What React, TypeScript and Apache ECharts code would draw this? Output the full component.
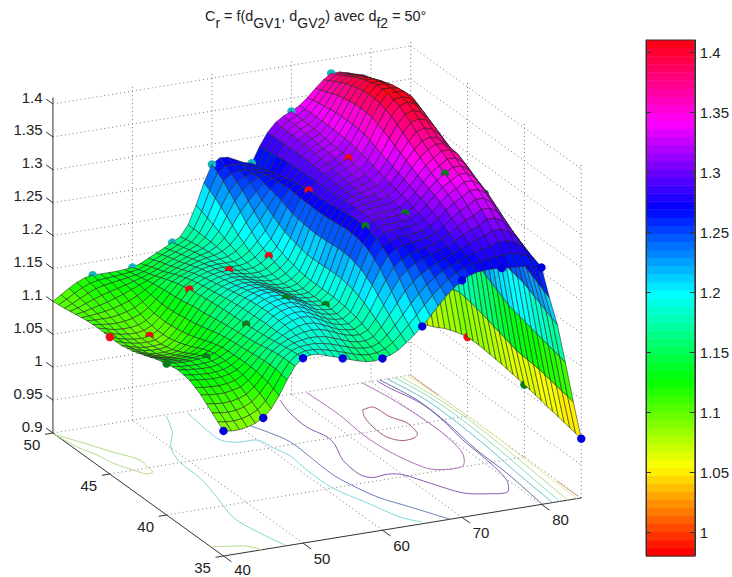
import React, { useEffect, useRef } from "react";
import * as echarts from "echarts";

const xTicks = [40, 50, 60, 70, 80];
const yTicks = [35, 40, 45, 50];
const zTicks = [0.9, 0.95, 1, 1.05, 1.1, 1.15, 1.2, 1.25, 1.3, 1.35, 1.4];
const barTicks = [1, 1.05, 1.1, 1.15, 1.2, 1.25, 1.3, 1.35, 1.4];
const xRange = [40, 85];
const yRange = [35, 50];
const zRange = [0.9, 1.41];
const barRange = [0.98, 1.41];
const barLevels = 64;

// z(dGV1 = 40..85 step 1) for each dGV2 = 35..50 step 1
const z35 = [1.090,1.088,1.088,1.090,1.094,1.100,1.112,1.130,1.152,1.171,1.181,1.184,1.183,1.179,1.175,1.171,1.167,1.163,1.160,1.159,1.161,1.164,1.170,1.179,1.189,1.200,1.213,1.227,1.240,1.251,1.260,1.266,1.269,1.270,1.270,1.269,1.268,1.267,1.266,1.264,1.260,1.212,1.169,1.110,1.048,0.990];
const z36 = [1.105,1.103,1.102,1.103,1.106,1.112,1.123,1.138,1.156,1.171,1.180,1.184,1.185,1.185,1.183,1.180,1.176,1.172,1.168,1.166,1.166,1.170,1.180,1.193,1.207,1.222,1.235,1.247,1.256,1.264,1.270,1.275,1.280,1.284,1.287,1.290,1.294,1.294,1.290,1.282,1.268,1.222,1.178,1.115,1.052,0.994];
const z37 = [1.120,1.118,1.117,1.117,1.119,1.122,1.130,1.142,1.156,1.169,1.177,1.183,1.187,1.190,1.191,1.190,1.186,1.181,1.176,1.173,1.172,1.177,1.192,1.211,1.230,1.248,1.259,1.267,1.272,1.276,1.280,1.285,1.291,1.298,1.304,1.308,1.316,1.316,1.310,1.296,1.278,1.232,1.187,1.120,1.056,0.998];
const z38 = [1.130,1.128,1.127,1.126,1.127,1.129,1.134,1.143,1.154,1.165,1.174,1.182,1.190,1.195,1.198,1.197,1.192,1.186,1.180,1.177,1.176,1.184,1.204,1.229,1.252,1.270,1.278,1.282,1.284,1.286,1.288,1.293,1.301,1.311,1.320,1.326,1.334,1.334,1.326,1.310,1.288,1.243,1.196,1.125,1.060,1.002];
const z39 = [1.133,1.131,1.130,1.129,1.129,1.131,1.135,1.142,1.152,1.162,1.172,1.182,1.191,1.197,1.200,1.200,1.195,1.189,1.183,1.180,1.179,1.188,1.212,1.241,1.267,1.284,1.291,1.293,1.293,1.294,1.295,1.301,1.311,1.323,1.333,1.340,1.348,1.348,1.340,1.324,1.299,1.254,1.200,1.130,1.062,1.006];
const z40 = [1.130,1.129,1.128,1.128,1.129,1.130,1.134,1.141,1.150,1.160,1.170,1.181,1.191,1.197,1.200,1.200,1.196,1.190,1.184,1.181,1.180,1.190,1.216,1.247,1.274,1.290,1.296,1.297,1.297,1.298,1.300,1.307,1.318,1.331,1.342,1.350,1.358,1.358,1.350,1.334,1.310,1.265,1.205,1.135,1.064,1.010];
const z41 = [1.125,1.122,1.120,1.119,1.120,1.122,1.128,1.136,1.147,1.158,1.169,1.180,1.189,1.195,1.198,1.197,1.193,1.187,1.182,1.180,1.180,1.190,1.216,1.248,1.275,1.290,1.297,1.300,1.301,1.302,1.305,1.313,1.325,1.339,1.352,1.361,1.370,1.370,1.362,1.345,1.321,1.278,1.218,1.145,1.070,1.013];
const z42 = [1.118,1.114,1.111,1.109,1.110,1.112,1.119,1.129,1.142,1.155,1.168,1.178,1.186,1.191,1.193,1.192,1.188,1.183,1.179,1.178,1.180,1.190,1.215,1.246,1.273,1.288,1.296,1.300,1.303,1.305,1.309,1.318,1.332,1.349,1.364,1.375,1.379,1.375,1.365,1.349,1.332,1.290,1.230,1.155,1.076,1.016];
const z43 = [1.112,1.108,1.104,1.102,1.102,1.104,1.112,1.123,1.137,1.152,1.166,1.175,1.182,1.186,1.188,1.187,1.184,1.180,1.177,1.177,1.182,1.192,1.215,1.245,1.271,1.285,1.294,1.300,1.304,1.308,1.313,1.323,1.339,1.359,1.377,1.390,1.394,1.390,1.378,1.360,1.330,1.302,1.242,1.165,1.082,1.018];
const z44 = [1.108,1.104,1.101,1.099,1.099,1.100,1.107,1.119,1.134,1.150,1.164,1.172,1.178,1.182,1.184,1.183,1.180,1.178,1.177,1.179,1.186,1.197,1.219,1.247,1.271,1.283,1.293,1.300,1.306,1.311,1.317,1.329,1.347,1.369,1.389,1.403,1.407,1.402,1.389,1.370,1.338,1.312,1.252,1.175,1.087,1.020];
const z45 = [1.108,1.104,1.101,1.099,1.098,1.100,1.106,1.117,1.131,1.146,1.161,1.169,1.174,1.178,1.180,1.180,1.178,1.177,1.178,1.183,1.192,1.204,1.225,1.250,1.272,1.282,1.294,1.303,1.309,1.315,1.321,1.334,1.354,1.377,1.397,1.410,1.410,1.409,1.399,1.380,1.345,1.320,1.260,1.180,1.090,1.020];
const z46 = [1.109,1.106,1.103,1.102,1.102,1.104,1.109,1.118,1.130,1.144,1.157,1.164,1.169,1.173,1.176,1.177,1.177,1.177,1.181,1.189,1.202,1.216,1.236,1.258,1.274,1.280,1.293,1.304,1.312,1.318,1.324,1.337,1.356,1.379,1.398,1.410,1.410,1.406,1.396,1.383,1.350,1.323,1.260,1.177,1.085,1.015];
const z47 = [1.108,1.107,1.107,1.107,1.109,1.112,1.116,1.123,1.132,1.142,1.151,1.157,1.162,1.167,1.171,1.174,1.176,1.180,1.188,1.201,1.218,1.233,1.248,1.263,1.272,1.276,1.292,1.305,1.314,1.320,1.326,1.338,1.356,1.377,1.395,1.405,1.405,1.400,1.392,1.382,1.352,1.322,1.255,1.170,1.080,1.008];
const z48 = [1.105,1.107,1.110,1.113,1.116,1.120,1.124,1.129,1.134,1.139,1.144,1.149,1.155,1.160,1.165,1.170,1.174,1.182,1.196,1.217,1.238,1.252,1.262,1.268,1.270,1.270,1.290,1.305,1.316,1.323,1.328,1.338,1.354,1.373,1.389,1.397,1.397,1.392,1.385,1.378,1.352,1.318,1.250,1.162,1.072,0.998];
const z49 = [1.102,1.107,1.113,1.119,1.124,1.127,1.129,1.131,1.133,1.135,1.138,1.143,1.149,1.155,1.160,1.165,1.171,1.183,1.204,1.232,1.256,1.265,1.268,1.267,1.265,1.265,1.287,1.304,1.316,1.324,1.329,1.338,1.351,1.366,1.380,1.387,1.387,1.383,1.378,1.373,1.350,1.314,1.245,1.155,1.065,0.990];
const z50 = [1.100,1.108,1.116,1.123,1.128,1.130,1.130,1.130,1.130,1.131,1.132,1.136,1.142,1.148,1.154,1.160,1.167,1.183,1.211,1.243,1.269,1.277,1.276,1.270,1.264,1.261,1.285,1.304,1.317,1.325,1.330,1.337,1.347,1.359,1.370,1.378,1.378,1.375,1.371,1.368,1.345,1.310,1.240,1.150,1.060,0.980];
const surfaceRows = [z35, z36, z37, z38, z39, z40, z41, z42, z43, z44, z45, z46, z47, z48, z49, z50];

// measured points: every 5 units of dGV1, one colour per dGV2 row
const markerXs = [40, 45, 50, 55, 60, 65, 70, 75, 80, 85];
const markerRows = [
  { y: 35, color: "#0000dd" },
  { y: 40, color: "#0a7a1e" },
  { y: 45, color: "#f00a14" },
  { y: 50, color: "#18b4bc" },
];

// floor contours, in (dGV1, dGV2)
const contourA = [[40,49.8],[40.7,49.3],[42.1,48.2],[43.5,47.1],[45.1,45.9],[44.9,45.1],[44.7,44.5],[43.8,44.4],[43,45],[41.9,46],[41.4,47.1],[40.5,48.2],[40,49.8]];
const contourB = [[40.2,36.1],[41.8,35.9],[43.8,35.6],[44.8,35]];
const contourC = [[54.1,49.9],[52.3,48.1],[50.1,46.7],[48.9,45.1],[48.7,43.1],[47.7,41],[46.5,38.7],[46.9,36.9],[47.9,35.1]];
const contourD = [[56.7,49.8],[56.2,47.8],[56.2,46.6],[57.6,46.1],[60,46],[60.5,45],[61.1,43.9],[60.8,42.2],[60.9,40],[62.3,38],[63.7,36],[65.2,35.2]];
const contourE = [[61,47.8],[62.3,46.5],[63.1,45.3],[63,43.5],[62.8,41.5],[63.1,40.3],[64.2,38.4],[66.1,36.9],[68.5,35]];
const contourF = [[68,49.6],[67.2,48.2],[66.9,46.5],[67.6,45.2],[67.3,44.3],[65.9,42.6],[65.6,40.9],[66.5,40.4],[68.5,40.5],[70,40.2],[71.6,38.9],[73.6,37.4],[76.2,36.9],[78.3,36.8],[79.9,38],[80.7,40.3],[81.1,42.7],[81.9,45.2],[82,47.1],[81,49],[80.7,49.9]];
const contourG = [[71.8,49.9],[72,47.2],[71.6,44.8],[71.9,42.7],[73.2,40.6],[74.5,40.1],[77.4,40.1],[79.2,41.4],[80,43.7],[80,45.7],[79.6,48],[78.9,50]];
const contourH = [[75.1,47.3],[76.6,47.4],[76.9,46.2],[77.8,45.3],[77.4,44.1],[76.5,43.7],[74.8,43.6],[73.7,44.2],[73.7,45.4],[74.3,46.6],[75.1,47.3]];
const contourJ = [[81.1,50],[82.1,47.4],[81.9,44.6],[81.1,41.5],[80.9,38.7],[80.1,35]];
const contourK = [[82,50],[83,47.4],[83,44.6],[82.6,41.5],[82,38.7],[81.4,35]];
const contourL = [[83,50],[83.8,47.4],[83.9,44.6],[83.5,41.5],[83,38.7],[82.3,35]];
const contourM = [[83.7,50],[84.4,47.4],[84.6,44.6],[84.3,41.5],[83.9,38.7],[83.3,35]];
const contourN = [[84.5,50],[84.9,47.6],[85,43],[84.9,41.5],[84.7,38.7],[84.5,35]];
const contourO = [[84.9,37.1],[84.9,36.3],[84.9,35.2]];
const contourP = [[84.95,50],[84.95,47.5]];
const contours = [
  { line: contourA, color: "#b4dc8e" }, { line: contourB, color: "#b4dc8e" },
  { line: contourC, color: "#84d8c6" }, { line: contourD, color: "#80d8dc" },
  { line: contourE, color: "#6a80b4" }, { line: contourF, color: "#8c5ab0" },
  { line: contourG, color: "#b06eb8" }, { line: contourH, color: "#a85a74" },
  { line: contourJ, color: "#5c70a8" }, { line: contourK, color: "#62c2d2" },
  { line: contourL, color: "#82dcba" }, { line: contourM, color: "#b2dc92" },
  { line: contourN, color: "#e6e69c" }, { line: contourO, color: "#d09a72" },
  { line: contourP, color: "#c8987a" },
];

const FONT = "Liberation Sans";
const TEXT = "#222";

// orthographic view of the 3-D box, in scene pixels
const view = { ox: 223.5, oy: 556, xx: 7.95, xy: -1.29, yx: -11.37, yy: -8.2, zy: -658 };
function project(x: number, y: number, z: number) {
  const a = x - xRange[0], b = y - yRange[0], c = z - zRange[0];
  return [view.ox + view.xx * a + view.yx * b, view.oy + view.xy * a + view.yy * b + view.zy * c];
}

function hsv(h: number) {
  const k = (n: number) => { const t = (n + h * 6) % 6; return Math.round(255 * (1 - Math.max(0, Math.min(t, 4 - t, 1)))); };
  return `rgb(${k(5)},${k(3)},${k(1)})`;
}
function levelColor(level: number) {
  return hsv(level / barLevels);
}
function zColor(z: number) {
  const l = Math.floor(((z - barRange[0]) / (barRange[1] - barRange[0])) * barLevels);
  return levelColor(Math.max(0, Math.min(barLevels - 1, l)));
}

type Seg = { a: number[]; b: number[]; dotted: boolean };

function buildSegments(): Seg[] {
  const segs: Seg[] = [];
  const [x0, x1] = xRange, [y0, y1] = yRange, [z0, z1] = zRange;
  const dot = (a: number[], b: number[]) => segs.push({ a, b, dotted: true });
  const solid = (a: number[], b: number[]) => segs.push({ a, b, dotted: false });
  zTicks.forEach((z) => {
    if (z !== z0) { dot([x0, y1, z], [x1, y1, z]); dot([x1, y1, z], [x1, y0, z]); }
    solid([x0, y1, z], [x0, y1 + 0.6, z]);
  });
  xTicks.forEach((x) => {
    if (x !== x0) {
      dot([x, y0, z0], [x, y1, z0]);
      dot([x, y1, z0], [x, y1, z1]);
    }
    solid([x, y0, z0], [x, y0 - 0.7, z0]);
  });
  yTicks.forEach((y) => {
    if (y !== y0) dot([x0, y, z0], [x1, y, z0]);
    dot([x1, y, z0], [x1, y, z1]);
    solid([x0, y, z0], [x0 - 1, y, z0]);
  });
  dot([x1, y0, z0], [x1, y1, z0]);
  solid([x0, y1, z0], [x0, y1, z1]);
  solid([x0, y0, z0], [x0, y1, z0]);
  solid([x0, y0, z0], [x1, y0, z0]);
  return segs;
}

type SurfItem =
  | { kind: "cell"; i: number; j: number }
  | { kind: "marker"; i: number; j: number; color: string };

function markerColorAt(i: number, j: number) {
  const x = xRange[0] + i, y = yRange[0] + j;
  const row = markerRows.find((r) => r.y === y);
  if (!row || !markerXs.includes(x)) return null;
  if (x === xRange[0] && y === yRange[1]) return null;
  return row.color;
}

// back-to-front order for a view from low dGV1 and low dGV2
function buildSurfaceItems(): SurfItem[] {
  const items: SurfItem[] = [];
  const ni = surfaceRows[0].length, nj = surfaceRows.length;
  for (let i = ni - 1; i >= -1; i--) {
    for (let j = nj - 1; j >= 0; j--) {
      if (i >= 0 && i < ni - 1 && j < nj - 1) items.push({ kind: "cell", i, j });
      if (i < ni - 1) {
        const color = markerColorAt(i + 1, j);
        if (color) items.push({ kind: "marker", i: i + 1, j, color });
      }
    }
  }
  return items;
}

function vertex(i: number, j: number) {
  return project(xRange[0] + i, yRange[0] + j, surfaceRows[j][i]);
}
function middle(a: number[], b: number[]) {
  return [(a[0] + b[0]) / 2, (a[1] + b[1]) / 2];
}

function buildOption() {
  const segs = buildSegments();
  const items = buildSurfaceItems();
  const labels = [
    ...zTicks.map((z) => ({ text: String(z), at: project(xRange[0], yRange[1] + 0.6, z), dx: -3.5, dy: -2, align: "right" })),
    ...yTicks.map((y) => ({ text: String(y), at: project(xRange[0], y, zRange[0]), dx: -21, dy: 11, align: "center" })),
    ...xTicks.map((x) => ({ text: String(x), at: project(x, yRange[0], zRange[0]), dx: 19, dy: 15, align: "center" })),
  ];
  const barBands = Array.from({ length: barLevels }, (_, l) => [l]);
  const scene = { coordinateSystem: "cartesian2d", xAxisIndex: 0, yAxisIndex: 0, silent: true, clip: false, progressive: 0, animation: false };
  const title = "{a|C}{s|r}{a| = f(d}{s|GV1}{a|, d}{s|GV2}{a|) avec d}{s|f2}{a| = 50°}";
  const faceStyle = (z: number) => ({ fill: zColor(z), stroke: "#222", lineWidth: 0.55 });
  return {
    animation: false,
    backgroundColor: "#ffffff",
    title: {
      text: title,
      left: 205,
      top: 0,
      padding: [9, 0, 0, 0],
      textStyle: {
        fontWeight: "normal",
        rich: {
          a: { fontFamily: FONT, fontSize: 14.4, fontWeight: "normal", color: TEXT, verticalAlign: "top", height: 14, lineHeight: 14 },
          s: { fontFamily: FONT, fontSize: 14, fontWeight: "normal", color: TEXT, verticalAlign: "bottom", height: 12, lineHeight: 20 },
        },
      },
    },
    grid: [
      { left: 0, right: 0, top: 0, bottom: 0, show: false },
      { left: 646, top: 40, width: 50, height: 516, show: false },
    ],
    xAxis: [
      { type: "value", gridIndex: 0, min: 0, max: 732, show: false },
      { type: "value", gridIndex: 1, min: 0, max: 1, show: false },
    ],
    yAxis: [
      { type: "value", gridIndex: 0, min: 0, max: 577, inverse: true, show: false },
      {
        type: "value", gridIndex: 1, min: barRange[0], max: barRange[1], position: "right", splitLine: { show: false }, z: 5,
        axisLine: { show: true, onZero: false, lineStyle: { color: "#333" } },
        axisTick: { show: true, inside: true, length: 5, lineStyle: { color: "#333" }, customValues: barTicks },
        axisLabel: { show: true, margin: 5, color: TEXT, fontFamily: FONT, fontSize: 15, customValues: barTicks, formatter: (v: number) => String(Math.round(v * 100) / 100) },
      },
      {
        type: "value", gridIndex: 1, min: barRange[0], max: barRange[1], position: "left", splitLine: { show: false }, z: 5,
        axisLine: { show: true, onZero: false, lineStyle: { color: "#333" } },
        axisTick: { show: true, inside: true, length: 5, lineStyle: { color: "#333" }, customValues: barTicks },
        axisLabel: { show: false },
      },
    ],
    series: [
      {
        ...scene, type: "custom", name: "grid", z: 1, data: segs.map((_, k) => [k]),
        renderItem: (p: any, api: any) => {
          const s = segs[p.dataIndex];
          const a = api.coord(project(s.a[0], s.a[1], s.a[2]));
          const b = api.coord(project(s.b[0], s.b[1], s.b[2]));
          return {
            type: "line",
            shape: { x1: a[0], y1: a[1], x2: b[0], y2: b[1] },
            style: s.dotted ? { stroke: "#777", lineWidth: 1, lineDash: [1, 3] } : { stroke: "#333", lineWidth: 1 },
          };
        },
      },
      {
        ...scene, type: "custom", name: "contours", z: 2, data: contours.map((_, k) => [k]),
        renderItem: (p: any, api: any) => {
          const c = contours[p.dataIndex];
          return {
            type: "polyline",
            shape: { points: c.line.map((q) => api.coord(project(q[0], q[1], zRange[0]))), smooth: 0.3 },
            style: { stroke: c.color, lineWidth: 1, fill: "none" },
          };
        },
      },
      {
        ...scene, type: "custom", name: "surface", z: 3, data: items.map((_, k) => [k]),
        renderItem: (p: any, api: any) => {
          const it = items[p.dataIndex];
          if (it.kind === "marker") {
            const c = api.coord(vertex(it.i, it.j));
            return { type: "circle", shape: { cx: c[0], cy: c[1], r: 4.2 }, style: { fill: it.color } };
          }
          // each cell is faceted in two along dGV2, far facet first
          const a = vertex(it.i, it.j), b = vertex(it.i + 1, it.j), c = vertex(it.i + 1, it.j + 1), d = vertex(it.i, it.j + 1);
          const m = middle(a, d), n = middle(b, c);
          const z0 = surfaceRows[it.j][it.i], z1 = surfaceRows[it.j + 1][it.i];
          const pts = (list: number[][]) => list.map((q) => api.coord(q));
          return {
            type: "group",
            children: [
              { type: "polygon", shape: { points: pts([m, n, c, d]) }, style: faceStyle((z0 + z1) / 2) },
              { type: "polygon", shape: { points: pts([a, b, n, m]) }, style: faceStyle(z0) },
            ],
          };
        },
      },
      {
        ...scene, type: "custom", name: "labels", z: 4, data: labels.map((_, k) => [k]),
        renderItem: (p: any, api: any) => {
          const l = labels[p.dataIndex];
          const c = api.coord(l.at);
          return {
            type: "text",
            style: { x: c[0] + l.dx, y: Math.min(c[1] + l.dy, 569), text: l.text, fill: TEXT, fontFamily: FONT, fontSize: 15, align: l.align, verticalAlign: "middle" },
          };
        },
      },
      {
        type: "custom", name: "colorbar", coordinateSystem: "cartesian2d", xAxisIndex: 1, yAxisIndex: 1, silent: true, z: 1, data: barBands,
        renderItem: (p: any, api: any) => {
          const l = p.dataIndex;
          const step = (barRange[1] - barRange[0]) / barLevels;
          const a = api.coord([0, barRange[0] + l * step]);
          const b = api.coord([1, barRange[0] + (l + 1) * step]);
          return { type: "rect", shape: { x: a[0], y: b[1], width: b[0] - a[0], height: a[1] - b[1] + 0.5 }, style: { fill: levelColor(l) } };
        },
      },
      {
        type: "custom", name: "colorbar frame", coordinateSystem: "cartesian2d", xAxisIndex: 1, yAxisIndex: 1, silent: true, z: 2, data: [[0]],
        renderItem: (_: any, api: any) => {
          const a = api.coord([0, barRange[0]]);
          const b = api.coord([1, barRange[1]]);
          return { type: "rect", shape: { x: a[0], y: b[1], width: b[0] - a[0], height: a[1] - b[1] }, style: { fill: "none", stroke: "#333", lineWidth: 1 } };
        },
      },
    ],
  };
}

export default function App() {
  const ref = useRef<HTMLDivElement>(null);
  useEffect(() => {
    document.body.style.margin = "0";
    const chart = echarts.init(ref.current!, undefined, { renderer: "svg" });
    chart.setOption(buildOption() as any);
    return () => chart.dispose();
  }, []);
  return <div ref={ref} style={{ width: 732, height: 577 }} />;
}
